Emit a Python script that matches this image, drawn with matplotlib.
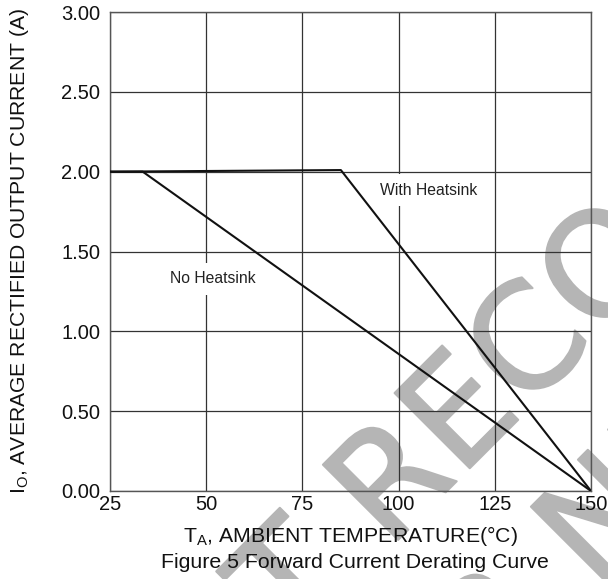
import matplotlib
matplotlib.use('Agg')
import matplotlib.pyplot as plt
import matplotlib.patheffects as pe

# ---- data ----
temps_no_hs = [25, 33.5, 150]
current_no_hs = [2.0, 2.0, 0.0]
temps_hs = [25, 85, 150]
current_hs = [2.0, 2.01, 0.0]
xticks = [25, 50, 75, 100, 125, 150]
xtick_labels = ['25', '50', '75', '100', '125', '150']
yticks = [0.0, 0.5, 1.0, 1.5, 2.0, 2.5, 3.0]
ytick_labels = ['0.00', '0.50', '1.00', '1.50', '2.00', '2.50', '3.00']
label_no_hs = 'No Heatsink'
label_hs = 'With Heatsink'

plt.rcParams['font.family'] = ['Liberation Sans', 'DejaVu Sans']
plt.rcParams['mathtext.fontset'] = 'custom'
plt.rcParams['mathtext.rm'] = 'Liberation Sans'
plt.rcParams['mathtext.it'] = 'Liberation Sans'

W, H = 608, 579
fig = plt.figure(figsize=(W / 100, H / 100), dpi=100)
fig.patch.set_facecolor('white')

def fx(px):
    return px / W

def fy(py):
    return 1 - py / H

ax = fig.add_axes([fx(110), fy(491), 481 / W, 479 / H])
ax.patch.set_alpha(0)

# watermark (behind everything)
wm_color = '#b5b5b5'
wm = dict(rotation=45, rotation_mode='anchor', va='baseline', fontsize=105,
          color=wm_color, family='DejaVu Sans', zorder=-5,
          path_effects=[pe.withStroke(linewidth=1.5, foreground=wm_color)])
fig.text(fx(388), fy(550), 'RECOMMENDED', ha='left', **wm)
fig.text(fx(355), fy(583), 'NOT', ha='right', **wm)
fig.text(fx(596), fy(592), 'NEW DESIGN', ha='left', **wm)
fig.text(fx(563), fy(625), 'FOR', ha='right', **wm)

ax.plot(temps_no_hs, current_no_hs, color='#111111', lw=1.5, zorder=3)
ax.plot(temps_hs, current_hs, color='#111111', lw=1.5, zorder=3)

ax.set_xlim(25, 150)
ax.set_ylim(0, 3)
ax.set_xticks(xticks)
ax.set_xticklabels(xtick_labels)
ax.set_yticks(yticks)
ax.set_yticklabels(ytick_labels)
ax.tick_params(axis='both', length=0, labelsize=14.5, colors='#111111')
ax.tick_params(axis='x', pad=3)
ax.tick_params(axis='y', pad=7)
ax.grid(True, color='#333333', lw=0.9, zorder=1)
for s in ax.spines.values():
    s.set_color('#555555')
    s.set_linewidth(1.0)

ax.text(51.8, 1.328, label_no_hs, ha='center', va='center', fontsize=11.3,
        color='#222222', zorder=4,
        bbox=dict(facecolor='white', edgecolor='none', pad=6))
ax.text(107.9, 1.885, label_hs, ha='center', va='center', fontsize=11.3,
        color='#222222', zorder=4,
        bbox=dict(facecolor='white', edgecolor='none', pad=6))

fig.text(fx(351), fy(542), r'T$_\mathregular{A}$, AMBIENT TEMPERATURE(°C)',
         ha='center', va='baseline', fontsize=15.3, color='#111111')
fig.text(fx(355), fy(568), 'Figure 5 Forward Current Derating Curve',
         ha='center', va='baseline', fontsize=15.3, color='#111111')
fig.text(fx(20), fy(251), r'I$_\mathregular{O}$, AVERAGE RECTIFIED OUTPUT CURRENT (A)',
         ha='center', va='center', rotation=90, fontsize=15.2, color='#111111')

fig.savefig('out.png', dpi=100)
